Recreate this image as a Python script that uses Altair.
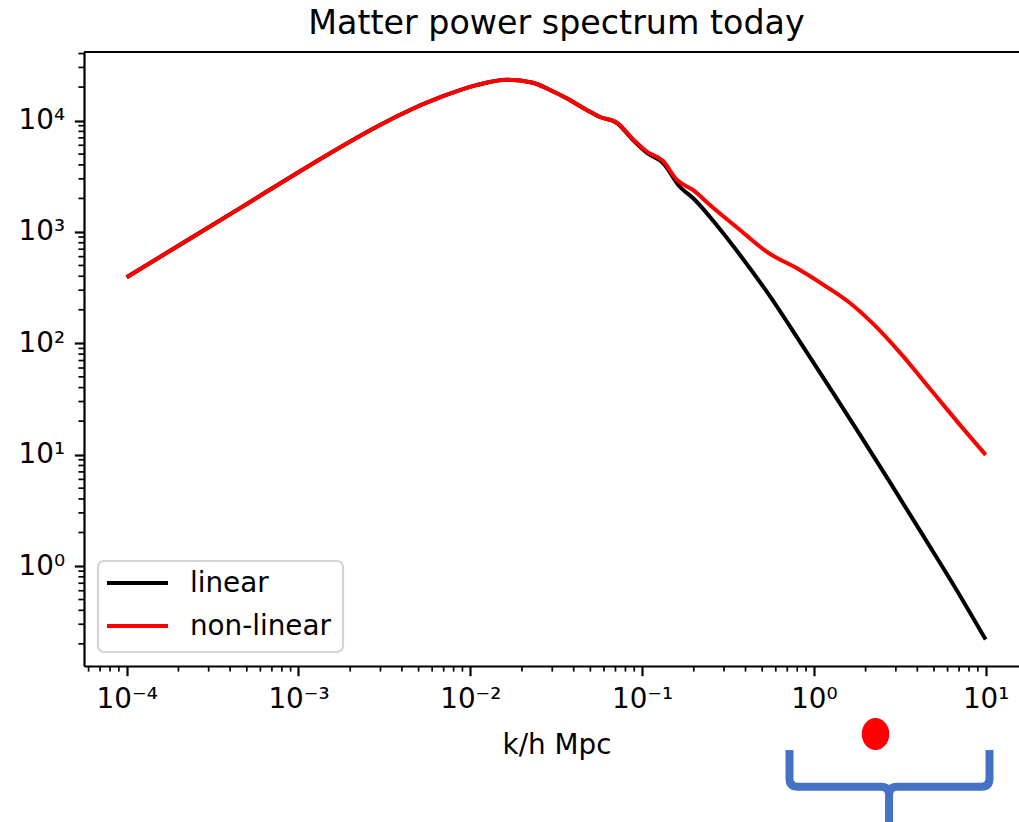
import math
import altair as alt
import pandas as pd

# ---- data ----
k_linear = [1.0e-4, 1.954e-4, 4.75e-4, 1.167e-3, 2.851e-3, 3.90e-3, 6.93e-3, 1.089e-2, 1.630e-2,
            2.317e-2, 2.911e-2, 3.640e-2, 4.764e-2, 5.69e-2, 7.14e-2, 8.85e-2, 0.1069, 0.1324,
            0.1663, 0.1977, 0.2729, 0.3715, 0.5333, 0.830, 1.291, 1.775, 2.775, 4.315, 6.81, 10.0]
P_linear = [392, 736, 1697, 3977, 8798, 11300, 16560, 20840, 23300,
            21900, 18830, 15860, 12450, 10770, 9515, 6696, 5117, 4161,
            2533, 2018, 1142, 621, 289, 103.1, 36.08, 16.79, 5.634, 1.883, 0.600, 0.2183]

k_nonlinear = [1.0e-4, 1.954e-4, 4.75e-4, 1.167e-3, 2.851e-3, 3.90e-3, 6.93e-3, 1.089e-2, 1.630e-2,
               2.317e-2, 2.911e-2, 3.640e-2, 4.764e-2, 5.69e-2, 7.14e-2, 8.85e-2, 0.1069, 0.1324,
               0.1596, 0.1977, 0.2483, 0.3715, 0.5333, 0.830, 1.191, 1.622, 2.208, 3.17, 4.93, 7.78, 10.0]
P_nonlinear = [392, 736, 1697, 3977, 8798, 11300, 16560, 20840, 23300,
               21900, 18830, 15860, 12450, 10770, 9560, 6800, 5250, 4335,
               2928, 2382, 1746, 1041, 661, 455, 320, 230, 150, 82.5, 36.3, 15.6, 9.95]

series_names = ["linear", "non-linear"]
series_colors = ["black", "red"]

x_major = [1e-4, 1e-3, 1e-2, 1e-1, 1e0, 1e1]
x_major_labels = ["10⁻⁴", "10⁻³", "10⁻²", "10⁻¹", "10⁰", "10¹"]
y_major = [1e0, 1e1, 1e2, 1e3, 1e4]
y_major_labels = ["10⁰", "10¹", "10²", "10³", "10⁴"]
minor_mult = [2, 3, 4, 5, 6, 7, 8, 9]

x_domain = [5.642e-5, 15.63]
y_domain = [0.1265, 41300]

marker_k = [2.284]
marker_P = [0.031]
brace_k = [2.665]
brace_P = [0.01042]

# ---- layout ----
W, H = 935, 614
FONT = "DejaVu Sans"
FS = 27.8

x_minor = [m * d for d in [1e-5] + x_major for m in minor_mult if x_domain[0] <= m * d <= x_domain[1]]
y_minor = [m * d for d in [1e-1] + y_major for m in minor_mult if y_domain[0] <= m * d <= y_domain[1]]


def label_expr(majors, labels):
    e = "round(log(datum.value)/LN10)"
    parts = [f"{e} == {round(math.log10(v))} ? '{lab}'" for v, lab in zip(majors, labels)]
    return " : ".join(parts) + " : ''"


scale_x = alt.Scale(type="log", domain=x_domain, nice=False)
scale_y = alt.Scale(type="log", domain=y_domain, nice=False)

common_axis = dict(grid=False, domainColor="black", domainWidth=2.2, tickColor="black",
                   tickWidth=2.2, tickSize=9.7, labelPadding=9.7, labelFont=FONT,
                   labelFontSize=FS, labelColor="black", labelOverlap=False,
                   labelFlush=False, labelBound=False)

x_axis = alt.Axis(values=x_major, labelExpr=label_expr(x_major, x_major_labels),
                  title="k/h Mpc", titleFont=FONT, titleFontSize=FS, titleFontWeight="normal",
                  titleColor="black", titleX=472.5, titleY=65, titleBaseline="top",
                  titleAlign="center", **common_axis)
y_axis = alt.Axis(values=y_major, labelExpr=label_expr(y_major, y_major_labels), title="",
                  **common_axis)

X = lambda: alt.X("k:Q", scale=scale_x, axis=x_axis)
Y = lambda: alt.Y("P:Q", scale=scale_y, axis=y_axis)


def line_layer(k, P, color):
    df = pd.DataFrame({"k": k, "P": P})
    return alt.Chart(df).mark_line(color=color, strokeWidth=4, interpolate="monotone").encode(
        x=X(), y=Y())


lin = line_layer(k_linear, P_linear, series_colors[0])
nonlin = line_layer(k_nonlinear, P_nonlinear, series_colors[1])

xminor_layer = alt.Chart(pd.DataFrame({"k": x_minor})).mark_rule(color="black", strokeWidth=1.7).encode(
    x=X(), y=alt.value(H), y2=alt.value(H + 5.6))
yminor_layer = alt.Chart(pd.DataFrame({"P": y_minor})).mark_rule(color="black", strokeWidth=1.7).encode(
    y=Y(), x=alt.value(0), x2=alt.value(-5.6))

one = pd.DataFrame({"a": [0]})
top_spine = alt.Chart(one).mark_rule(color="black", strokeWidth=2.2).encode(
    x=alt.value(0), x2=alt.value(W), y=alt.value(0))

# legend (manual, matplotlib-like)
legend_box = alt.Chart(one).mark_rect(fill="white", fillOpacity=0.8, stroke="#d4d4d4",
                                      strokeWidth=2.2, cornerRadius=6).encode(
    x=alt.value(14), x2=alt.value(259), y=alt.value(509), y2=alt.value(600))
legend_layers = []
for i, (name, col) in enumerate(zip(series_names, series_colors)):
    yy = 531 + i * 43
    d = pd.DataFrame({"label": [name]})
    legend_layers.append(alt.Chart(d).mark_rule(color=col, strokeWidth=4).encode(
        x=alt.value(23), x2=alt.value(84), y=alt.value(yy)))
    legend_layers.append(alt.Chart(d).mark_text(align="left", baseline="middle", font=FONT,
                                                fontSize=FS, color="black").encode(
        x=alt.value(106), y=alt.value(yy + 1), text="label:N"))

# annotation: red dot and blue brace below the axis
ellipse = "M 0 -1 A 0.86 1 0 1 1 0 1 A 0.86 1 0 1 1 0 -1 Z"
dot = alt.Chart(pd.DataFrame({"k": marker_k, "P": marker_P})).mark_point(
    shape=ellipse, filled=True, size=1024, color="red", opacity=1, strokeWidth=0).encode(
    x=X(), y=Y())

brace_path = ("M -0.956 -0.36 L -0.956 -0.08 Q -0.956 0 -0.876 0 L -0.06 0 Q 0.02 0 0.02 0.08 "
              "L 0.02 0.45 M 0.02 0.08 Q 0.02 0 0.1 0 L 0.925 0 Q 1.005 0 1.005 -0.08 L 1.005 -0.36")
brace = alt.Chart(pd.DataFrame({"k": brace_k, "P": brace_P})).mark_point(
    shape=brace_path, filled=False, size=41616, stroke="#4472C4", strokeWidth=8, opacity=1).encode(
    x=X(), y=Y())

chart = alt.layer(
    lin, nonlin, xminor_layer, yminor_layer, top_spine, legend_box, *legend_layers, dot, brace
).properties(
    width=W, height=H,
    title=alt.TitleParams("Matter power spectrum today", font=FONT, fontSize=33.3,
                          fontWeight="normal", color="black", anchor="middle", frame="group",
                          dx=5, dy=33, offset=16.7, baseline="alphabetic"),
    autosize=alt.AutoSizeParams(type="none"),
    padding={"left": 84, "top": 52, "right": 0, "bottom": 156},
).configure(font=FONT, background="white").configure_view(strokeWidth=0, strokeOpacity=0)

chart.save("out.html", embed_options={"renderer": "svg", "actions": False})
